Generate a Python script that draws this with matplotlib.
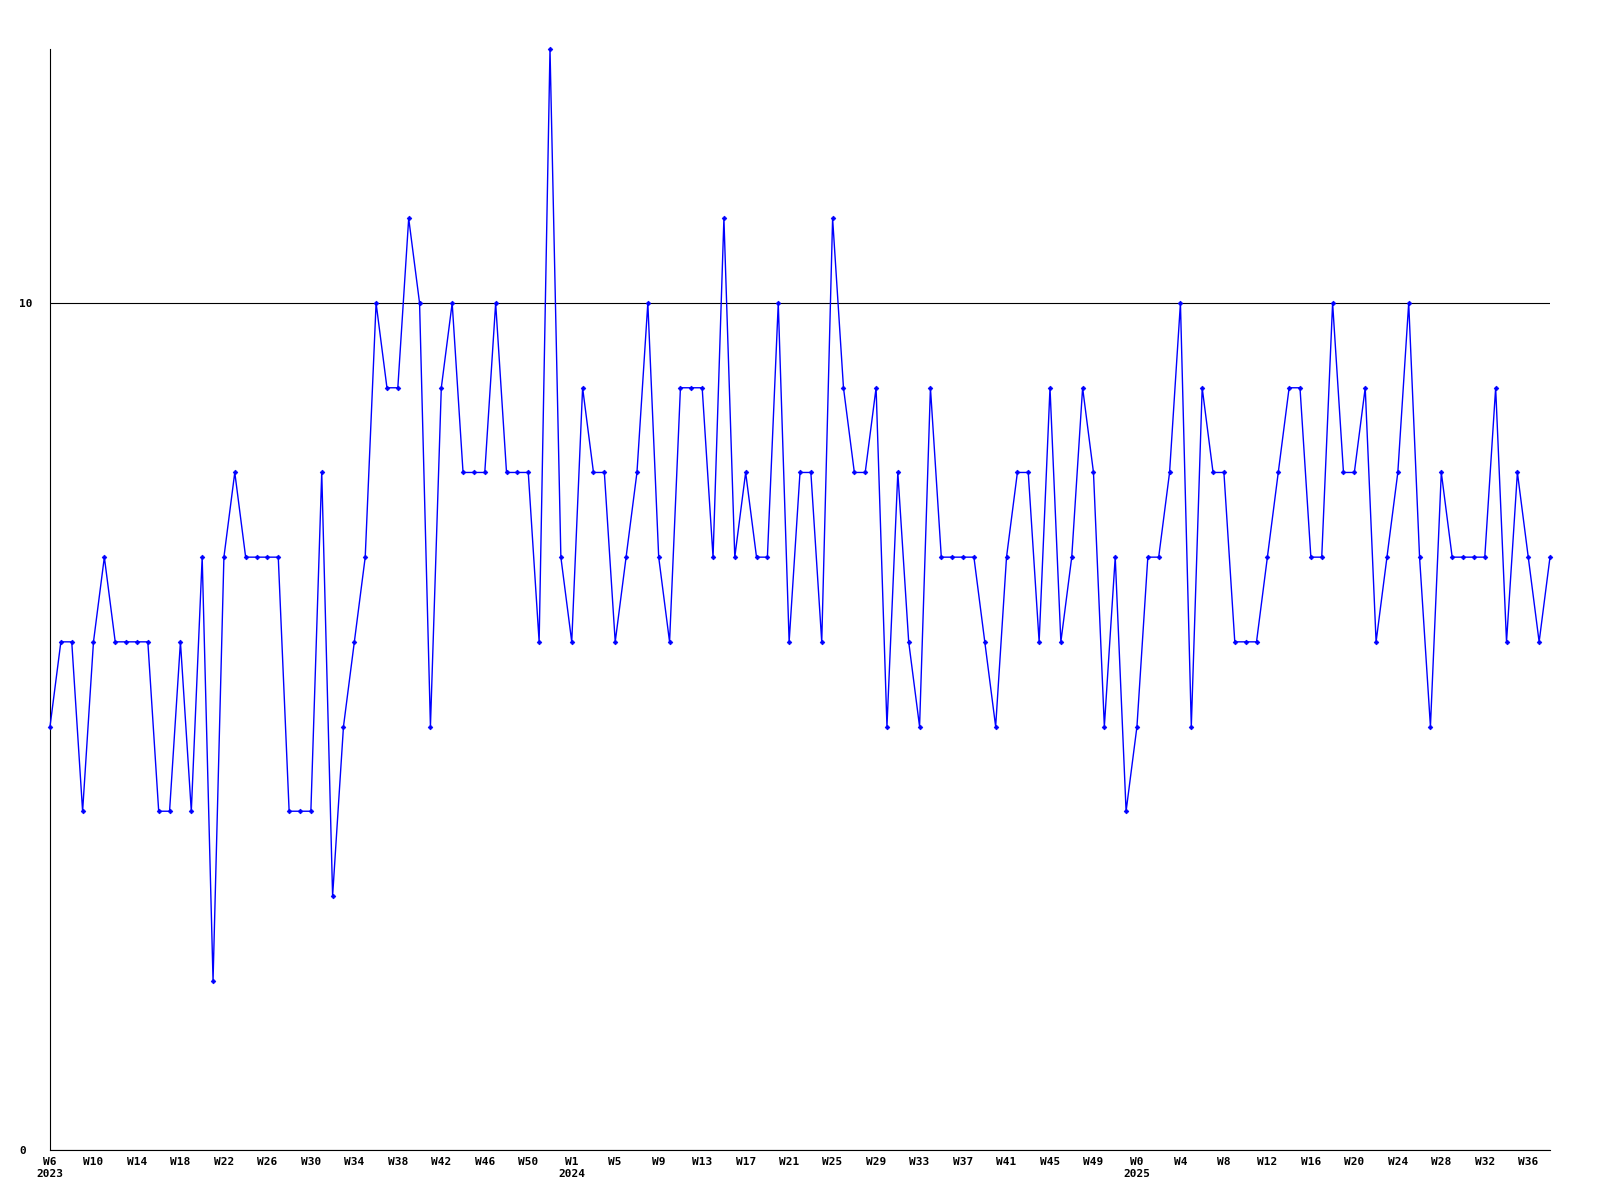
import numpy as np
import matplotlib
matplotlib.use("Agg")
import matplotlib.pyplot as plt

# weekly counts, 2023 W6 .. 2025 W38
values = [
    5, 6, 6, 4, 6, 7, 6, 6, 6, 6,
    4, 4, 6, 4, 7, 2, 7, 8, 7, 7,
    7, 7, 4, 4, 4, 8, 3, 5, 6, 7,
    10, 9, 9, 11, 10, 5, 9, 10, 8, 8,
    8, 10, 8, 8, 8, 6, 13, 7, 6, 9,
    8, 8, 6, 7, 8, 10, 7, 6, 9, 9,
    9, 7, 11, 7, 8, 7, 7, 10, 6, 8,
    8, 6, 11, 9, 8, 8, 9, 5, 8, 6,
    5, 9, 7, 7, 7, 7, 6, 5, 7, 8,
    8, 6, 9, 6, 7, 9, 8, 5, 7, 4,
    5, 7, 7, 8, 10, 5, 9, 8, 8, 6,
    6, 6, 7, 8, 9, 9, 7, 7, 10, 8,
    8, 9, 6, 7, 8, 10, 7, 5, 8, 7,
    7, 7, 7, 9, 6, 8, 7, 6, 7,
]
years = ["2023", "2024", "2025"]
first_week = [6, 1, 0]
last_week = [53, 52, 38]
y_ticks = [0, 10]

plt.rcParams.update({
    "font.family": "DejaVu Sans Mono",
    "font.weight": "bold",
    "font.size": 8,
})

# week labels, tick every 4th week inside each year
tick_pos, tick_lab = [], []
idx = 0
for yr, w0, w1 in zip(years, first_week, last_week):
    for k, w in enumerate(range(w0, w1 + 1)):
        if k % 4 == 0:
            tick_pos.append(idx)
            lab = "W%d" % w
            if k == 0:
                lab += "\n" + yr
            tick_lab.append(lab)
        idx += 1

x = np.arange(len(values))

fig = plt.figure(figsize=(16, 12), dpi=100)
ax = fig.add_axes([50 / 1600, 50 / 1200, 1500 / 1600, 1101 / 1200])

ax.plot(x, values, color="#0000FF", linewidth=1.0, marker="D",
        markersize=2.4, markerfacecolor="#0000FF", markeredgewidth=0.5,
        clip_on=False, zorder=3)

ax.set_xlim(0, len(values) - 1)
ax.set_ylim(0, 13)

ax.set_yticks(y_ticks)
ax.set_yticklabels([str(v) for v in y_ticks])
ax.yaxis.grid(True, color="black", linewidth=0.8)
ax.tick_params(axis="y", length=0, pad=22)
for t in ax.get_yticklabels():
    t.set_horizontalalignment("left")

ax.set_xticks(tick_pos)
ax.set_xticklabels(tick_lab, multialignment="center")
ax.tick_params(axis="x", length=0, pad=5)

ax.spines["top"].set_visible(False)
ax.spines["right"].set_visible(False)
ax.spines["left"].set_linewidth(0.8)
ax.spines["bottom"].set_linewidth(0.8)

fig.savefig("out.png", dpi=100)
